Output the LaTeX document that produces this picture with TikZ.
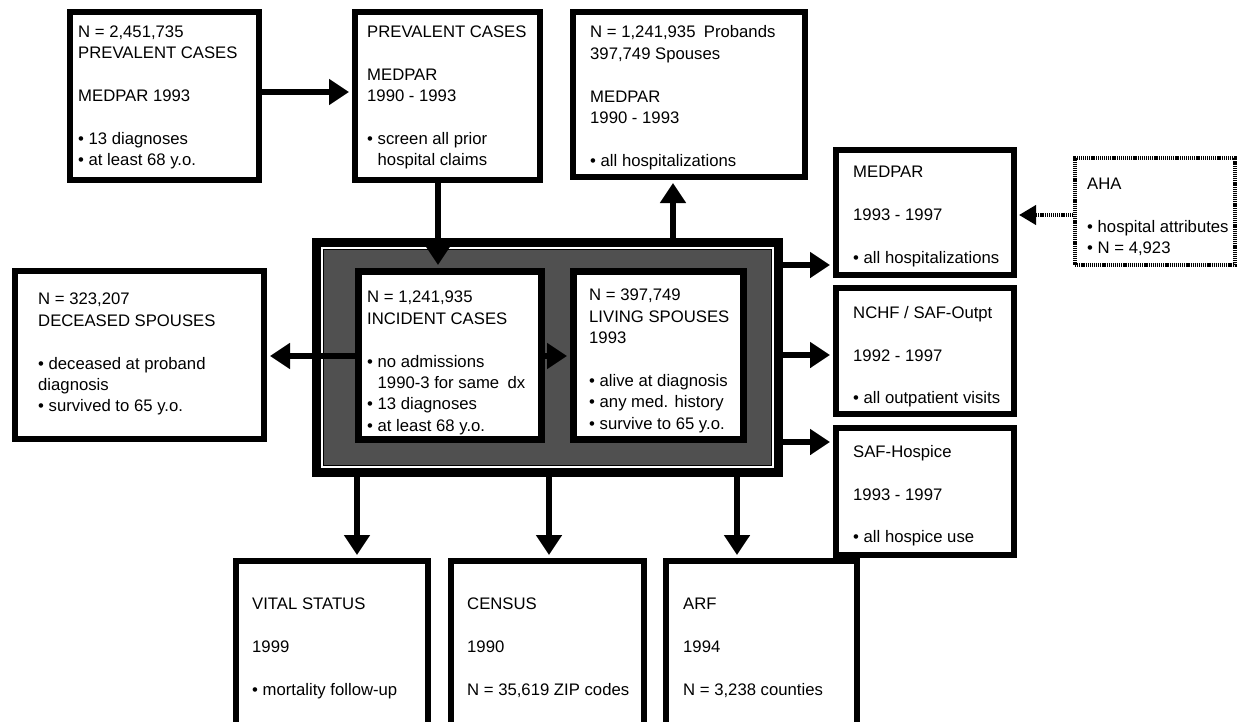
\documentclass[tikz,border=0pt]{standalone}
\usepackage{fontspec}
\setmainfont{Liberation Sans}
\usetikzlibrary{arrows.meta}
\definecolor{coregray}{RGB}{80,80,80}
\begin{document}
\begin{tikzpicture}[x=1pt,y=-1pt,
  bx/.style={draw=black, line width=6pt, fill=white, inner sep=0pt},
  dotbx/.style={draw=black, line width=4pt, dash pattern=on 1.2pt off 0.9pt, fill=white, inner sep=0pt},
  txt/.style={anchor=north west, inner sep=0pt, align=left, font=\fontsize{16.7}{21.4}\selectfont},
  arr/.style={line width=6pt, -{Triangle[width=25pt,length=20pt]}, shorten >=3pt},
  dotarr/.style={line width=4pt, dash pattern=on 1.2pt off 0.9pt, -{Triangle[width=19pt,length=17pt]}, shorten >=2pt}]
\useasboundingbox (0,0) rectangle (1241,721);
\clip (0,0) rectangle (1241,721);
\fill[white] (0,0) rectangle (1241,721);

% top row
\node[bx, minimum width=189pt, minimum height=168pt] (pc) at (164.5,96) {};
\node[bx, minimum width=185pt, minimum height=168pt] (pm) at (447.5,96) {};
\node[bx, minimum width=232pt, minimum height=165pt] (ph) at (689,94.5) {};
\node[txt] at (78,25.5) {N = 2,451,735\\PREVALENT CASES\\[21.4pt]MEDPAR 1993\\[21.4pt]• 13 diagnoses\\• at least 68 y.o.};
\node[txt] at (367,25.5) {PREVALENT CASES\\[21.4pt]MEDPAR\\1990 - 1993\\[21.4pt]• screen all prior\\\phantom{• }hospital claims};
\node[txt] at (590,25.5) {N = 1,241,935\enspace Probands\\397,749 Spouses\\[21.4pt]MEDPAR\\1990 - 1993\\[21.4pt]• all hospitalizations};

% central block
\node[fill=black, inner sep=0pt, minimum width=471pt, minimum height=239pt] (core) at (547.5,357.5) {};
\fill[white] ([shift={(9,9)}]core.north west) rectangle ([shift={(-9,-9)}]core.south east);
\filldraw[fill=coregray, draw=black, line width=1.3pt] ([shift={(11.5,11.5)}]core.north west) rectangle ([shift={(-11.5,-11.5)}]core.south east);
\node[bx, line width=7pt, minimum width=183pt, minimum height=168pt] (inc) at (450,355.5) {};
\node[bx, line width=7pt, minimum width=170pt, minimum height=168pt] (liv) at (658.5,355.5) {};
\node[txt] at (367,291) {N = 1,241,935\\INCIDENT CASES\\[21.4pt]• no admissions\\\phantom{• }1990-3 for same\enspace dx\\• 13 diagnoses\\• at least 68 y.o.};
\node[txt] at (589,289) {N = 397,749\\LIVING SPOUSES\\1993\\[21.4pt]• alive at diagnosis\\• any med. history\\• survive to 65 y.o.};

% left box
\node[bx, minimum width=249pt, minimum height=168pt] (dec) at (139.5,355) {};
\node[txt] at (38,293) {N = 323,207\\DECEASED SPOUSES\\[21.4pt]• deceased at proband\\diagnosis\\• survived to 65 y.o.};

% right column
\node[bx, minimum width=178pt, minimum height=125pt] (mr) at (925,212.5) {};
\node[bx, minimum width=178pt, minimum height=126pt] (nc) at (925,351) {};
\node[bx, minimum width=178pt, minimum height=127pt] (sf) at (925,491.5) {};
\node[txt] at (853,166) {MEDPAR\\[21.4pt]1993 - 1997\\[21.4pt]• all hospitalizations};
\node[txt] at (853,306) {NCHF / SAF-Outpt\\[21.4pt]1992 - 1997\\[21.4pt]• all outpatient visits};
\node[txt] at (853,445) {SAF-Hospice\\[21.4pt]1993 - 1997\\[21.4pt]• all hospice use};

% AHA
\node[dotbx, minimum width=160pt, minimum height=107pt] (aha) at (1155,211.5) {};
\node[txt] at (1087,178) {AHA\\[21.4pt]• hospital attributes\\• N = 4,923};

% bottom row
\node[bx, minimum width=192pt, minimum height=199pt] (vs) at (332,660.5) {};
\node[bx, minimum width=193pt, minimum height=199pt] (cs) at (547.5,660.5) {};
\node[bx, minimum width=191pt, minimum height=199pt] (arf) at (761.5,660.5) {};
\node[txt] at (252,598) {VITAL STATUS\\[21.4pt]1999\\[21.4pt]• mortality follow-up};
\node[txt] at (467,598) {CENSUS\\[21.4pt]1990\\[21.4pt]N = 35,619 ZIP codes};
\node[txt] at (683,598) {ARF\\[21.4pt]1994\\[21.4pt]N = 3,238 counties};

% connectors
\draw[arr] (pc.east |- 0,92) -- (pm.west |- 0,92);
\draw[arr] (438,0 |- pm.south) -- (438,0 |- inc.north);
\draw[arr] (673,0 |- core.north) -- (673,0 |- ph.south);
\draw[arr] (inc.east |- 0,356) -- (liv.west |- 0,356);
\draw[arr] (inc.west |- 0,356) -- (dec.east |- 0,356);
\draw[arr] (core.east |- 0,265) -- (mr.west |- 0,265);
\draw[arr] (core.east |- 0,355) -- (nc.west |- 0,355);
\draw[arr] (core.east |- 0,442) -- (sf.west |- 0,442);
\draw[arr] (357,0 |- core.south) -- (357,0 |- vs.north);
\draw[arr] (549,0 |- core.south) -- (549,0 |- cs.north);
\draw[arr] (737,0 |- core.south) -- (737,0 |- arf.north);
\draw[dotarr] (aha.west |- 0,215) -- (mr.east |- 0,215);
\end{tikzpicture}
\end{document}
